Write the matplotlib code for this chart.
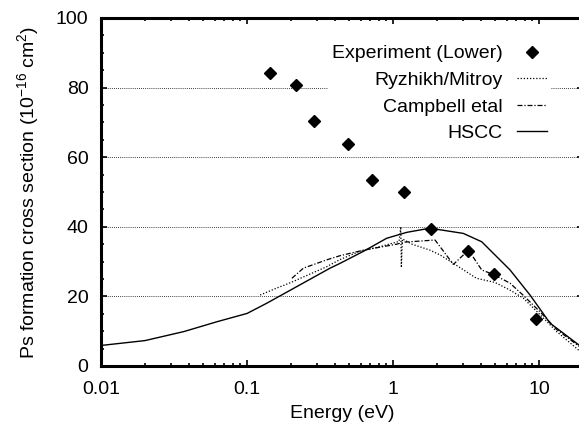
import numpy as np
import matplotlib
matplotlib.use("Agg")
import matplotlib.pyplot as plt
from matplotlib.ticker import FixedLocator, MultipleLocator, LogLocator, NullFormatter

# Experiment (lower) points
exp_energy = [0.144, 0.217, 0.286, 0.494, 0.714, 1.18, 1.82, 3.25, 4.94, 9.5]
exp_sigma = [84.2, 80.7, 70.4, 63.8, 53.4, 50.1, 39.4, 33.1, 26.4, 13.6]

# Ryzhikh/Mitroy
rm_energy = [0.123, 0.16, 0.2, 0.25, 0.35, 0.434, 0.594, 0.815, 1.1, 1.13, 1.14,
             1.16, 1.35, 1.79, 2.1, 2.59, 3.73, 5.0, 6.33, 7.8, 10.2, 13.2, 20]
rm_sigma = [20.4, 22.4, 24.0, 25.8, 28.5, 30.6, 33.0, 34.3, 35.8, 40.0, 28.3,
            36.5, 35.0, 33.3, 31.9, 29.5, 25.2, 24.0, 21.8, 19.5, 14.7, 9.9, 3.5]

# Campbell et al
cb_energy = [0.203, 0.243, 0.351, 0.434, 0.63, 1.057, 1.2, 1.53, 1.94, 2.59,
             3.29, 4.05, 4.87, 6.33, 7.8, 10.2, 13.2, 20]
cb_sigma = [25.2, 28.1, 30.5, 31.7, 33.3, 35.0, 35.6, 35.9, 36.2, 29.2,
            33.3, 27.6, 26.3, 23.8, 20.3, 15.5, 10.5, 4.8]

# HSCC
hs_energy = [0.01, 0.02, 0.037, 0.062, 0.1, 0.136, 0.23, 0.37, 0.434, 0.63,
             0.904, 1.24, 1.79, 3.03, 4.05, 6.33, 8.67, 11.9, 18.8, 20]
hs_sigma = [5.9, 7.3, 9.9, 12.7, 15.1, 18.0, 23.3, 28.1, 29.5, 33.0,
            36.7, 38.4, 39.6, 38.1, 35.7, 27.6, 20.4, 12.3, 6.0, 5.5]

y_ticks = [0, 20, 40, 60, 80, 100]
x_ticks = [0.01, 0.1, 1, 10]
x_ticklabels = ["0.01", "0.1", "1", "10"]

plt.rcParams["font.family"] = ["Liberation Sans", "DejaVu Sans"]
plt.rcParams["mathtext.default"] = "regular"

fig = plt.figure(figsize=(5.79, 4.25), dpi=100)
ax = fig.add_axes([101 / 579, 59 / 425, 482 / 579, 348 / 425])

ax.plot(exp_energy, exp_sigma, linestyle="none", marker="D", color="black",
        markersize=6.5, label="Experiment (Lower)", zorder=6)
ax.plot(rm_energy, rm_sigma, linestyle=(0, (1, 1.5)), color="black", lw=0.9,
        label="Ryzhikh/Mitroy")
ax.plot(cb_energy, cb_sigma, linestyle=(0, (4, 1.5, 1, 1.5)), color="black",
        lw=0.9, label="Campbell etal")
ax.plot(hs_energy, hs_sigma, linestyle="-", color="black", lw=1.0, label="HSCC")

ax.set_xscale("log")
ax.set_xlim(0.01, 20)
ax.set_ylim(0, 100)

ax.xaxis.set_major_locator(FixedLocator(x_ticks))
ax.set_xticklabels(x_ticklabels)
ax.xaxis.set_minor_locator(LogLocator(base=10, subs=np.arange(2, 10)))
ax.xaxis.set_minor_formatter(NullFormatter())
ax.yaxis.set_major_locator(FixedLocator(y_ticks))
ax.yaxis.set_minor_locator(MultipleLocator(5))

ax.tick_params(which="both", direction="in", top=True, right=True,
               labelsize=14, width=1.2)
ax.tick_params(which="major", length=4.5)
ax.tick_params(which="minor", length=2.5)
ax.tick_params(axis="x", which="major", pad=11)
ax.tick_params(axis="y", which="major", pad=9)
for s in ax.spines.values():
    s.set_linewidth(2.2)

for v in y_ticks[1:-1]:
    ax.axhline(v, color="black", lw=0.6, linestyle=(0, (1, 1.5)), zorder=0)

ax.set_xlabel("Energy (eV)", fontsize=14, labelpad=5)
ax.set_ylabel("Ps formation cross section (10$^{-16}$ cm$^{2}$)", fontsize=14,
              labelpad=11)

leg = ax.legend(loc="upper right", bbox_to_anchor=(551 / 579, 1 - 41 / 425),
                bbox_transform=fig.transFigure, borderaxespad=0,
                markerfirst=False, fontsize=14, handlelength=1.55,
                handletextpad=0.72, labelspacing=0.46, borderpad=0.2,
                frameon=True, fancybox=False, framealpha=1)
leg.get_frame().set_edgecolor("none")
leg.get_frame().set_facecolor("white")

fig.savefig("out.png", dpi=100)
